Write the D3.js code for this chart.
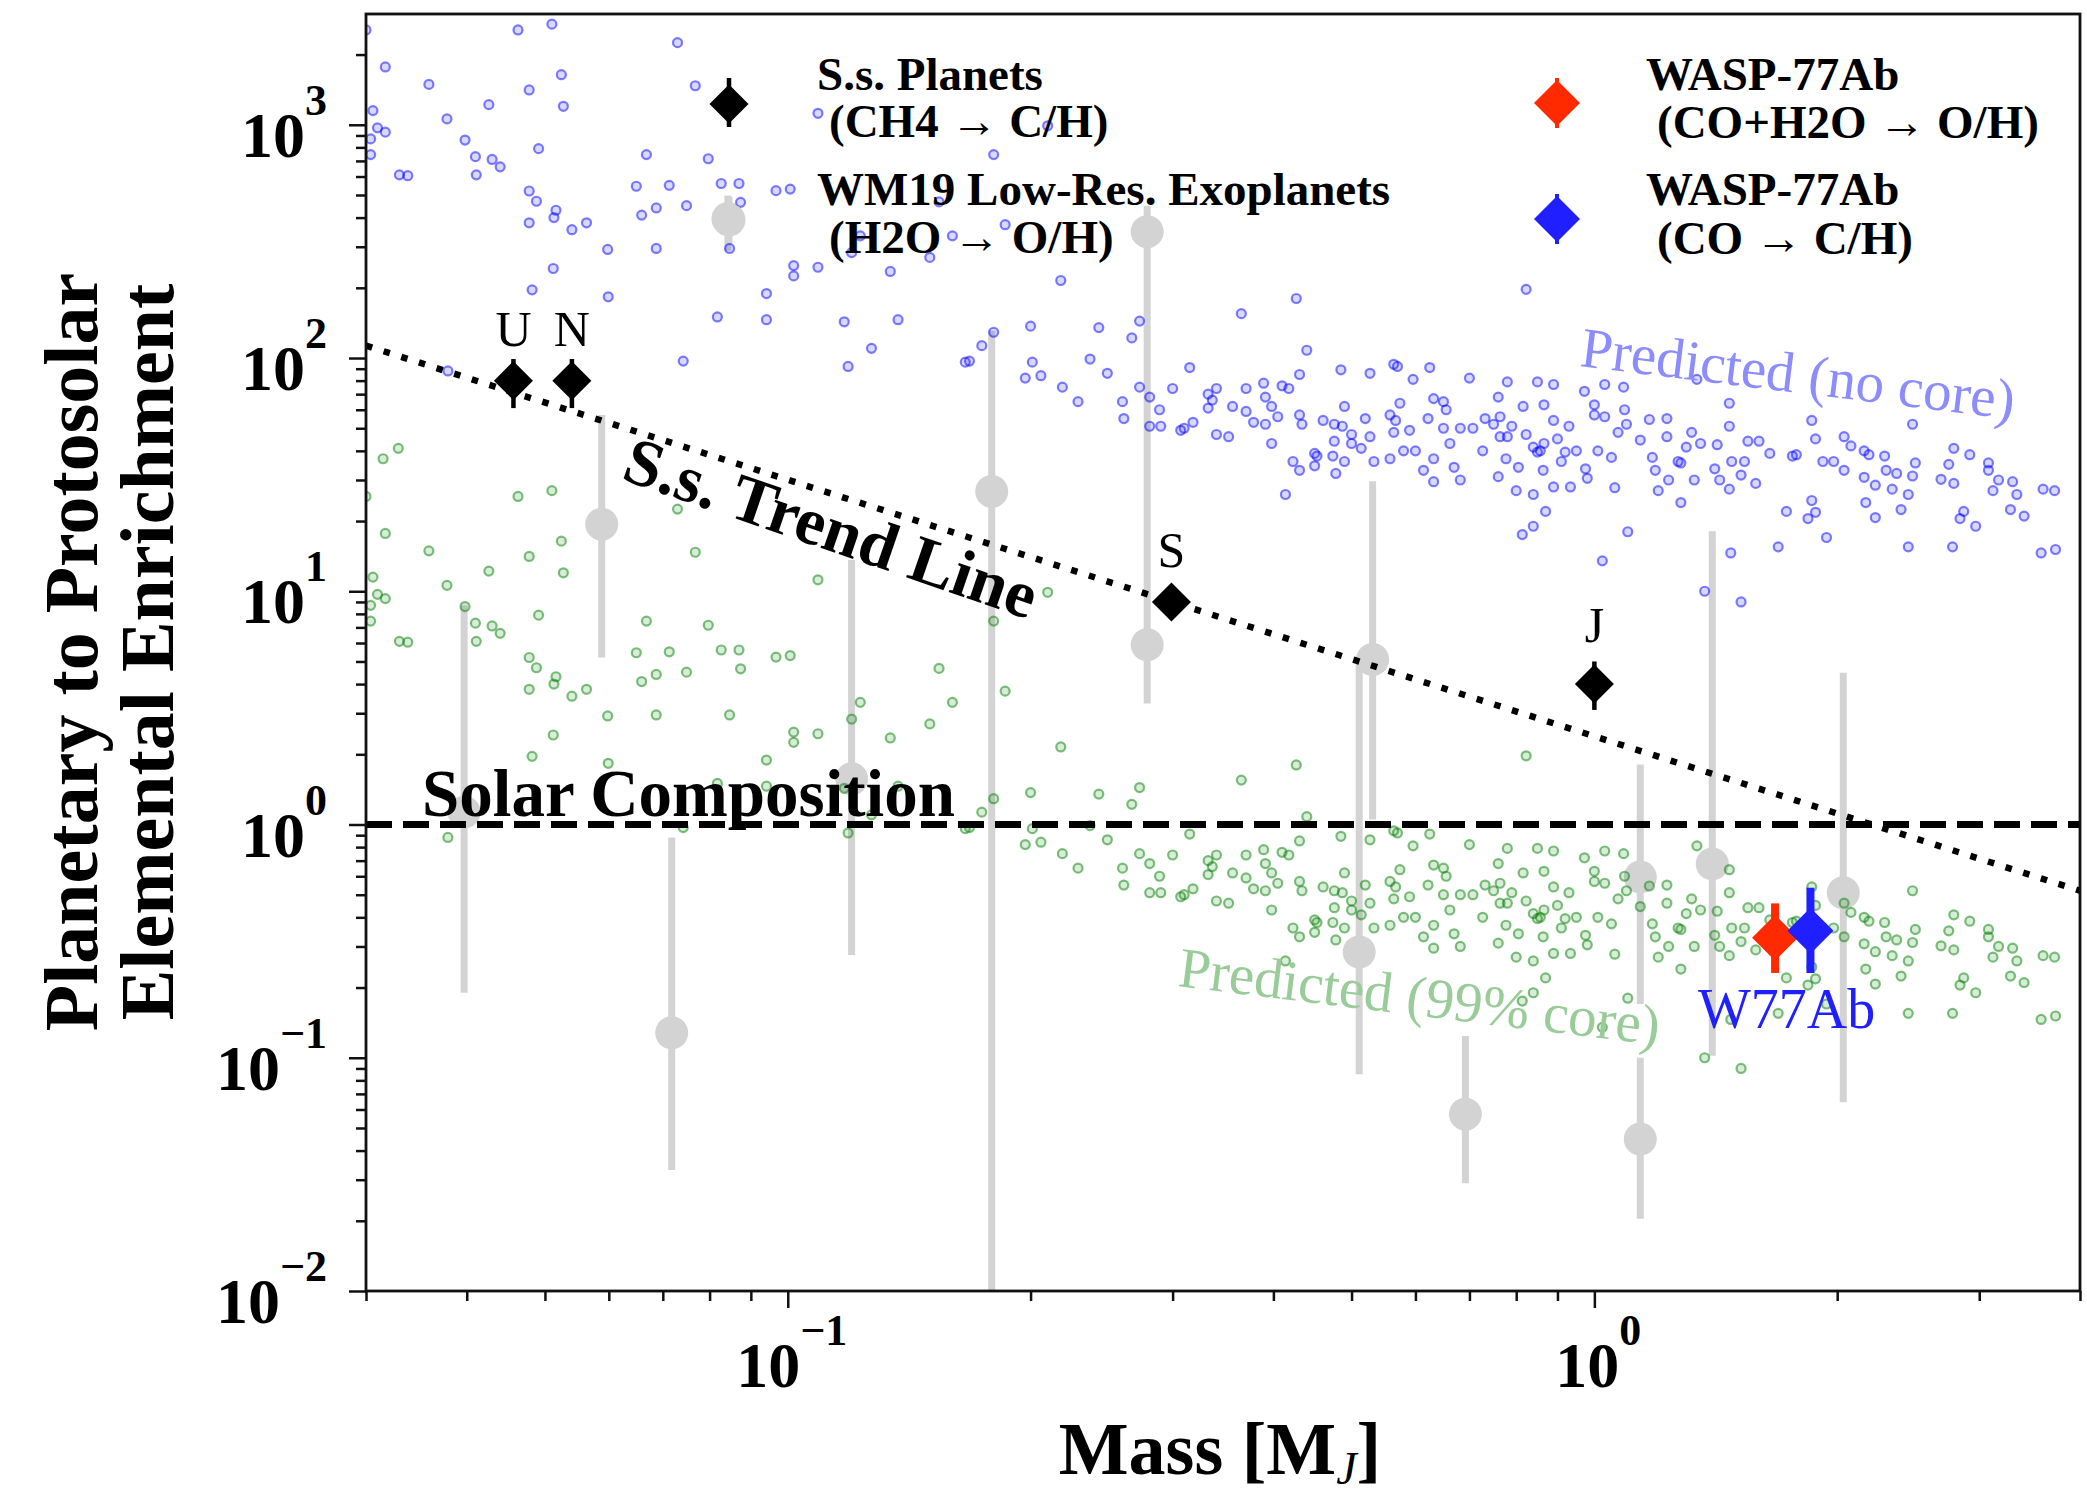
<!DOCTYPE html>
<meta charset="utf-8">
<title>Planetary enrichment vs mass</title>
<style>
body { margin: 0; background: #fff; }
svg text { font-family: "Liberation Serif", "Times New Roman", serif; }
</style>
<body>
<svg id="chart" width="2087" height="1495"></svg>
<script src="https://cdnjs.cloudflare.com/ajax/libs/d3/7.8.5/d3.min.js"></script>
<script>
// ---- data ----
// solar system planets (CH4 -> C/H)
var ssNames = ["U", "N", "S", "J"];
var ssMass = [0.0457, 0.054, 0.299, 1.0];
var ssEnrich = [80, 80, 9.0, 4.0];
var ssLo = [61, 61, 8.6, 3.1];
var ssHi = [99, 99, 9.4, 5.0];

// WM19 low-res exoplanets (H2O -> O/H)
var wmMass = [0.0397, 0.0588, 0.0718, 0.0843, 0.120, 0.179, 0.279, 0.279, 0.511, 0.531, 0.692, 1.14, 1.14, 1.40, 2.035];
var wmEnrich = [1.13, 19.4, 0.128, 396, 1.57, 26.8, 348, 5.9, 0.284, 5.1, 0.0573, 0.595, 0.0448, 0.678, 0.51];
var wmLo = [0.19, 5.2, 0.033, 288, 0.276, 0.005, 20, 3.3, 0.085, 1.05, 0.029, 0.17, 0.0204, 0.102, 0.0645];
var wmHi = [8.7, 57, 0.88, 497, 13.6, 131, 450, 20, 5.3, 29.6, 0.124, 1.81, 0.10, 18.1, 4.47];

// WASP-77Ab
var wMass = [1.675, 1.853];
var wEnrich = [0.327, 0.350];
var wLo = [0.231, 0.231];
var wHi = [0.459, 0.535];
var wColors = ["#ff2a00", "#1f1fff"];

// solar system trend line end points
var trendMass = [0.03, 4.0];
var trendEnrich = [113, 0.52];

// predicted population: no core / 99% core
var predMass = [0.030,0.0463,0.051,0.073,0.0317,0.0359,0.0478,0.0524,0.0527,0.0426,0.0306,0.031,0.0317,0.0304,0.0304,0.0378,0.0398,0.041,0.043,0.044,
0.033,0.0338,0.0411,0.0491,0.0668,0.0768,0.0797,0.0827,0.087,0.0713,0.0649,0.0749,0.0687,0.0659,0.0478,0.0488,0.0516,0.0513,0.0478,0.054,
0.0563,0.0598,0.0687,0.0874,0.0847,0.0512,0.0482,0.0599,0.0941,0.0941,0.0818,0.1017,0.109,0.0967,0.1007,0.0742,0.1188,0.1175,0.127,0.137,
0.109,0.18,0.186,0.15,0.134,0.0379,0.168,0.18,0.197,0.2,0.174,0.0315,0.0329,0.1017,0.123,0.120,0.160,0.154,0.210,0.218,
0.166,0.201,0.206,0.243,0.273,0.267,0.237,0.249,0.219,0.229,0.260,0.261,0.273,0.289,0.290,0.300,0.307,0.318,0.315,0.340,
0.352,0.332,0.336,0.332,0.365,0.427,0.440,0.356,0.370,0.389,0.391,0.398,0.378,0.391,0.405,0.410,0.418,0.431,0.431,0.434,
0.398,0.423,0.431,0.414,0.450,0.450,0.461,0.476,0.485,0.490,0.487,0.500,0.476,0.490,0.478,0.500,0.514,0.527,0.533,0.527,
0.520,0.558,0.567,0.564,0.564,0.558,0.823,0.281,0.281,0.340,0.370,0.596,0.474,0.453,0.590,0.574,0.580,0.600,0.614,0.632,
0.632,0.650,0.655,0.622,0.650,0.682,0.662,0.670,0.682,0.632,0.707,0.732,0.750,0.760,0.764,0.727,0.760,0.800,0.816,0.840,
0.850,0.840,0.870,0.814,0.840,0.857,0.70,0.78,0.625,0.57,0.31,0.89,0.972,1.03,1.087,1.34,0.866,1.0,1.0,1.03,
1.09,0.764,0.79,0.78,0.823,0.89,0.93,0.90,0.866,0.92,0.95,0.85,0.777,0.805,0.864,0.91,0.975,0.98,0.89,0.934,
1.10,1.023,1.06,1.01,1.05,1.07,1.096,1.14,1.17,1.18,1.19,1.23,1.23,1.27,1.30,1.28,1.236,1.20,1.28,1.32,
1.33,1.354,1.42,1.41,1.47,1.47,1.48,1.47,1.43,1.52,1.535,1.585,1.55,1.60,1.65,1.73,1.69,1.76,1.78,1.86,
1.88,1.86,1.88,1.84,1.94,1.92,1.98,2.04,2.04,2.08,2.16,2.19,2.16,2.23,2.17,2.23,2.29,2.30,2.37,2.34,
2.45,2.40,2.45,2.48,2.48,2.50,2.69,2.75,2.79,2.79,2.92,2.87,2.84,2.97,2.78,3.08,3.08,3.17,3.12,3.30,
3.34,3.28,3.41,3.60,3.72,3.58,3.73,1.37,1.476,1.52];

var predNoCore = [2550,2550,2700,2250,1770,1490,1410,1640,1200,1220,1150,970,930,870,745,1060,860,730,710,660,
610,605,610,790,745,1470,715,560,560,550,545,450,440,410,520,470,430,400,380,355,
380,292,295,465,295,242,196,183,189,146,150,249,245,522,530,97,92,143,110,146,
1120,745,373,270,235,88,97,129,82,137,113,3700,4100,225,334,283,334,467,990,215,
96,96,84,135,144,122,99,86,75,65,65,55,75,60,51,74,49,53,91,47,
46,70,66,61,155,180,108,62,59,78,68,62,53,52,56,76,74,85,57,52,
43,36,33,26,39,34.5,54,52,89,62,51,47,44,36,32,43,41,46,36,86,
55,57,54,94,48,37,197,68,51,74,74,81,38,38,49,64,40,40,33,29.5,
67,65,60,55,50,50,43,34,30,37,50,55,52,68,46,40,31,27,62,41.5,
79,26,22,17.5,19,40,82,79,91,92,50,77,72,77,75,81,63,63,57,56,
60,56,51,46,47,54,51,45,43,39.5,40,39.5,37,34,33,36,33.5,30.5,28,28,
18,13.5,27.8,40,37.5,48,52,44.5,54.5,37.5,33,55,46,36,41.5,35.5,30,27,24,48,
30,43,42.5,33.5,64,51,36,27.4,30,31.5,36,29,44,44,39,22,15.5,38,38.5,54,
45,24.5,21.8,20.5,17,36,36,46,33,42,40,38.5,30.8,28.5,24,20.7,38,33,32,27.4,
26,22.4,15.5,52,31.2,35.5,30.2,35,41,29,38.5,22,20.5,19,15.5,35.5,33,30,27,29.5,
26,22.4,21,27.4,27,14.6,15.1,10,14.6,9];

var predCore = [25.5,25.5,27,22.5,17.7,14.9,14.1,16.4,12,12.2,11.5,9.7,9.3,8.7,7.45,10.6,8.6,7.3,7.1,6.6,
6.1,6.05,6.1,7.9,7.45,14.7,7.15,5.6,5.6,5.5,5.45,4.5,4.4,4.1,5.2,4.7,4.3,4.0,3.8,3.55,
3.8,2.92,2.95,4.65,2.95,2.42,1.96,1.83,1.89,1.46,1.5,2.49,2.45,5.22,5.3,0.97,0.92,1.43,1.1,1.46,
11.2,7.45,3.73,2.7,2.35,0.88,0.97,1.29,0.82,1.37,1.13,37,41,2.25,3.34,2.83,3.34,4.67,9.9,2.15,
0.96,0.96,0.84,1.35,1.44,1.22,0.99,0.86,0.75,0.65,0.65,0.55,0.75,0.6,0.51,0.74,0.49,0.53,0.91,0.47,
0.46,0.7,0.66,0.61,1.55,1.8,1.08,0.62,0.59,0.78,0.68,0.62,0.53,0.52,0.56,0.76,0.74,0.85,0.57,0.52,
0.43,0.36,0.33,0.26,0.39,0.345,0.54,0.52,0.89,0.62,0.51,0.47,0.44,0.36,0.32,0.43,0.41,0.46,0.36,0.86,
0.55,0.57,0.54,0.94,0.48,0.37,1.97,0.68,0.51,0.74,0.74,0.81,0.38,0.38,0.49,0.64,0.4,0.4,0.33,0.295,
0.67,0.65,0.6,0.55,0.5,0.5,0.43,0.34,0.3,0.37,0.5,0.55,0.52,0.68,0.46,0.4,0.31,0.27,0.62,0.415,
0.79,0.26,0.22,0.175,0.19,0.4,0.82,0.79,0.91,0.92,0.5,0.77,0.72,0.77,0.75,0.81,0.63,0.63,0.57,0.56,
0.6,0.56,0.51,0.46,0.47,0.54,0.51,0.45,0.43,0.395,0.4,0.395,0.37,0.34,0.33,0.36,0.335,0.305,0.28,0.28,
0.18,0.135,0.278,0.4,0.375,0.48,0.52,0.445,0.545,0.375,0.33,0.55,0.46,0.36,0.415,0.355,0.3,0.27,0.24,0.48,
0.3,0.43,0.425,0.335,0.64,0.51,0.36,0.274,0.3,0.315,0.36,0.29,0.44,0.44,0.39,0.22,0.155,0.38,0.385,0.54,
0.45,0.245,0.218,0.205,0.17,0.36,0.36,0.46,0.33,0.42,0.4,0.385,0.308,0.285,0.24,0.207,0.38,0.33,0.32,0.274,
0.26,0.224,0.155,0.52,0.312,0.355,0.302,0.35,0.41,0.29,0.385,0.22,0.205,0.19,0.155,0.355,0.33,0.3,0.27,0.295,
0.26,0.224,0.21,0.274,0.27,0.146,0.151,0.1,0.146,0.09];

// axis ticks
var yMajor = [1e-2, 1e-1, 1e0, 1e1, 1e2, 1e3];
var xMajor = [0.1, 1];

// ---- drawing ----
var svg = d3.select("#chart");
svg.append("rect").attr("width", 2087).attr("height", 1495).attr("fill", "#fff");

// plot box (note: "top" is reserved on window, so prefix these)
var pLeft = 366, pRight = 2080, pTop = 14, pBottom = 1291;

var x = d3.scaleLog().domain([0.03, 4.0]).range([pLeft, pRight]);
var y = d3.scaleLog().domain([0.01, 2985]).range([pBottom, pTop]);

svg.append("clipPath").attr("id", "plotclip")
  .append("rect").attr("x", pLeft).attr("y", pTop).attr("width", pRight - pLeft).attr("height", pBottom - pTop);

var plot = svg.append("g").attr("clip-path", "url(#plotclip)");

function diamond(s) { return "M0," + (-s) + "L" + s + ",0L0," + s + "L" + (-s) + ",0Z"; }

// gray WM19 points with error bars
wmMass.forEach(function(m, i) {
  plot.append("line")
    .attr("x1", x(m)).attr("x2", x(m))
    .attr("y1", y(wmLo[i])).attr("y2", y(wmHi[i]))
    .attr("stroke", "#d3d3d3").attr("stroke-width", 7);
});
plot.selectAll(".wm").data(wmMass).join("circle")
  .attr("cx", function(d) { return x(d); })
  .attr("cy", function(d, i) { return y(wmEnrich[i]); })
  .attr("r", 16.5).attr("fill", "#d3d3d3");

// predicted scatter (no core = blue, 99% core = green)
plot.selectAll(".nc").data(predMass).join("circle")
  .attr("cx", function(d) { return x(d); })
  .attr("cy", function(d, i) { return y(predNoCore[i]); })
  .attr("r", 4.5)
  .attr("fill", "#0000ff").attr("fill-opacity", 0.15)
  .attr("stroke", "#0000ff").attr("stroke-opacity", 0.5).attr("stroke-width", 2.2);

plot.selectAll(".cc").data(predMass).join("circle")
  .attr("cx", function(d) { return x(d); })
  .attr("cy", function(d, i) { return y(predCore[i]); })
  .attr("r", 4.5)
  .attr("fill", "#008000").attr("fill-opacity", 0.15)
  .attr("stroke", "#008000").attr("stroke-opacity", 0.5).attr("stroke-width", 2.2);

// solar composition line
plot.append("line")
  .attr("x1", x(0.03)).attr("x2", x(4.0))
  .attr("y1", y(1)).attr("y2", y(1))
  .attr("stroke", "#000").attr("stroke-width", 7).attr("stroke-dasharray", "26,11");

// trend line
var trendLine = d3.line().x(function(d) { return x(d); }).y(function(d, i) { return y(trendEnrich[i]); });
plot.append("path").attr("d", trendLine(trendMass))
  .attr("fill", "none").attr("stroke", "#000").attr("stroke-width", 6.5)
  .attr("stroke-dasharray", "6.5,12");

// solar system planets
ssMass.forEach(function(m, i) {
  plot.append("line")
    .attr("x1", x(m)).attr("x2", x(m))
    .attr("y1", y(ssLo[i])).attr("y2", y(ssHi[i]))
    .attr("stroke", "#000").attr("stroke-width", 4.5);
  plot.append("path").attr("d", diamond(19.5))
    .attr("transform", "translate(" + x(m) + "," + y(ssEnrich[i]) + ")")
    .attr("fill", "#000");
  svg.append("text")
    .attr("x", x(m)).attr("y", y(ssEnrich[i]) - (ssNames[i] == "J" ? 42 : 35))
    .attr("text-anchor", "middle").attr("font-size", 50)
    .text(ssNames[i]);
});

// WASP-77Ab
wMass.forEach(function(m, i) {
  plot.append("line")
    .attr("x1", x(m)).attr("x2", x(m))
    .attr("y1", y(wLo[i])).attr("y2", y(wHi[i]))
    .attr("stroke", wColors[i]).attr("stroke-width", 8);
  plot.append("path").attr("d", diamond(23))
    .attr("transform", "translate(" + x(m) + "," + y(wEnrich[i]) + ")")
    .attr("fill", wColors[i]);
});

// ---- axes ----
var yMinor = y.ticks().filter(function(d) { return yMajor.indexOf(d) < 0; });
var xMinor = x.ticks().filter(function(d) { return xMajor.indexOf(d) < 0; });

function styleAxis(g) {
  g.select(".domain").remove();
  g.selectAll(".tick line").attr("stroke", "#111").attr("stroke-width", 2.5);
}
svg.append("g").attr("transform", "translate(" + pLeft + ",0)")
  .call(d3.axisLeft(y).tickValues(yMinor).tickSize(10).tickFormat("")).call(styleAxis);
svg.append("g").attr("transform", "translate(" + pLeft + ",0)")
  .call(d3.axisLeft(y).tickValues(yMajor).tickSize(17).tickFormat("")).call(styleAxis);
svg.append("g").attr("transform", "translate(0," + pBottom + ")")
  .call(d3.axisBottom(x).tickValues(xMinor).tickSize(10).tickFormat("")).call(styleAxis);
svg.append("g").attr("transform", "translate(0," + pBottom + ")")
  .call(d3.axisBottom(x).tickValues(xMajor).tickSize(17).tickFormat("")).call(styleAxis);

svg.append("rect")
  .attr("x", pLeft).attr("y", pTop).attr("width", pRight - pLeft).attr("height", pBottom - pTop)
  .attr("fill", "none").attr("stroke", "#111").attr("stroke-width", 2.8);

function powLabel(sel, d) {
  var e = Math.round(Math.log10(d));
  sel.append("tspan").text("10");
  sel.append("tspan").attr("dy", -42).attr("font-size", 44).text(e < 0 ? "\u2212" + (-e) : e);
}
yMajor.forEach(function(d) {
  var t = svg.append("text").attr("x", 327).attr("y", y(d) + 32)
    .attr("text-anchor", "end").attr("font-weight", "bold").attr("font-size", 64);
  powLabel(t, d);
});
xMajor.forEach(function(d) {
  var t = svg.append("text").attr("x", x(d) + 4).attr("y", 1387)
    .attr("text-anchor", "middle").attr("font-weight", "bold").attr("font-size", 64);
  powLabel(t, d);
});

// axis titles
var xt = svg.append("text").attr("x", 1220).attr("y", 1474)
  .attr("text-anchor", "middle").attr("font-weight", "bold").attr("font-size", 74);
xt.append("tspan").text("Mass [M");
xt.append("tspan").attr("dy", 10).attr("font-size", 46).attr("font-weight", "normal").attr("font-style", "italic").text("J");
xt.append("tspan").attr("dy", -10).text("]");

svg.append("text").attr("transform", "translate(97,652) rotate(-90)")
  .attr("text-anchor", "middle").attr("font-weight", "bold").attr("font-size", 76)
  .text("Planetary to Protosolar");
svg.append("text").attr("transform", "translate(173,652) rotate(-90)")
  .attr("text-anchor", "middle").attr("font-weight", "bold").attr("font-size", 76)
  .text("Elemental Enrichment");

// annotations
svg.append("text").attr("x", 422).attr("y", 816)
  .attr("font-weight", "bold").attr("font-size", 67).text("Solar Composition");
svg.append("text").attr("transform", "translate(824,549) rotate(19)")
  .attr("text-anchor", "middle").attr("font-weight", "bold").attr("font-size", 67)
  .text("S.s. Trend Line");
svg.append("text").attr("transform", "translate(1579,366) rotate(7)")
  .attr("font-size", 57).attr("fill", "#8c8cff").text("Predicted (no core)");
svg.append("text").attr("transform", "translate(1177,986) rotate(7)")
  .attr("font-size", 57).attr("fill", "#99cc99").text("Predicted (99% core)");
svg.append("text").attr("x", 1698).attr("y", 1028)
  .attr("font-size", 56).attr("fill", "#1f1fff").text("W77Ab");

// ---- legend ----
var leg = svg.append("g").attr("font-weight", "bold").attr("font-size", 47);
leg.append("line").attr("x1", 729).attr("x2", 729).attr("y1", 78).attr("y2", 127)
  .attr("stroke", "#000").attr("stroke-width", 4.5);
leg.append("path").attr("d", diamond(19.5)).attr("transform", "translate(729,104)");
leg.append("line").attr("x1", 729).attr("x2", 729).attr("y1", 197).attr("y2", 243)
  .attr("stroke", "#d3d3d3").attr("stroke-width", 7);
leg.append("circle").attr("cx", 729).attr("cy", 220).attr("r", 16.5).attr("fill", "#d3d3d3");
leg.append("text").attr("x", 817).attr("y", 90).text("S.s. Planets");
leg.append("text").attr("x", 829).attr("y", 137).text("(CH4 \u2192 C/H)");
leg.append("text").attr("x", 817).attr("y", 205).text("WM19 Low-Res. Exoplanets");
leg.append("text").attr("x", 829).attr("y", 253).text("(H2O \u2192 O/H)");

[103, 219].forEach(function(cy, i) {
  leg.append("line").attr("x1", 1557).attr("x2", 1557).attr("y1", cy - 25).attr("y2", cy + 25)
    .attr("stroke", wColors[i]).attr("stroke-width", 4);
  leg.append("path").attr("d", diamond(23)).attr("transform", "translate(1557," + cy + ")")
    .attr("fill", wColors[i]);
});
leg.append("text").attr("x", 1646).attr("y", 90).text("WASP-77Ab");
leg.append("text").attr("x", 1657).attr("y", 138).text("(CO+H2O \u2192 O/H)");
leg.append("text").attr("x", 1646).attr("y", 205).text("WASP-77Ab");
leg.append("text").attr("x", 1657).attr("y", 254).text("(CO \u2192 C/H)");
</script>
</body>
